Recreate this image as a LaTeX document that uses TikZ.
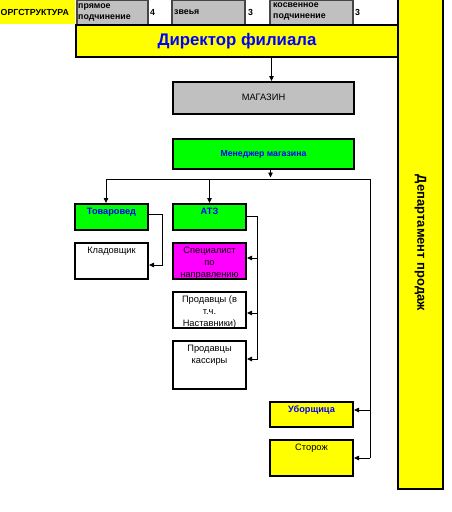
\documentclass[tikz,border=0pt]{standalone}
\usepackage{fontspec}
\setmainfont{Liberation Sans}
\usetikzlibrary{arrows.meta,calc}
\definecolor{cyellow}{RGB}{255,255,0}
\definecolor{cgreen}{RGB}{0,255,0}
\definecolor{cmag}{RGB}{255,0,255}
\definecolor{cgray}{RGB}{192,192,192}
\definecolor{hgray}{RGB}{70,70,70}
\definecolor{cblue}{RGB}{0,0,255}
\begin{document}
\begin{tikzpicture}[x=1pt,y=-1pt,
  box/.style={draw=black,line width=2pt,inner sep=0pt,anchor=north west,font=\fontsize{9.3}{12}\selectfont},
  txt/.style={font=\fontsize{9.3}{12}\selectfont,align=center,inner sep=0pt,anchor=north},
  btxt/.style={txt,font=\bfseries\fontsize{9.2}{12}\selectfont,text=cblue},
  hdr/.style={font=\bfseries\fontsize{8.8}{11}\selectfont,align=left,inner sep=0pt,anchor=west},
  hcell/.style={draw=hgray,line width=1.5pt,fill=cgray,inner sep=0pt,anchor=north west},
  conn/.style={line width=0.8pt},
  arr/.style={conn,-{Triangle[length=5pt,width=4.5pt]}}]
\useasboundingbox (0,0) rectangle (451,512);

% header row
\node[fill=cyellow,inner sep=0pt,minimum width=75pt,minimum height=24pt,anchor=north west] (orgcell) at (0,0) {};
\node[hdr] (orgt) at (0.5,12) {ОРГСТРУКТУРА};
\node[hcell,minimum width=71pt,minimum height=25pt] (c1) at (76,-1) {};
\node[hdr] (c1t) at (78,12) {прямое\\подчинение};
\node[hdr] (n1) at (150,12) {4};
\node[hcell,minimum width=73pt,minimum height=25pt] (c2) at (171,-1) {};
\node[hdr] (c2t) at (174,12) {звеья};
\node[hdr] (n2) at (248,12) {3};
\node[hcell,minimum width=83pt,minimum height=25pt] (c3) at (269,-1) {};
\node[hdr] (c3t) at (273,12) {косвенное\\подчинение};
\node[hdr] (n3) at (355,12) {3};

% department bar
\node[box,fill=cyellow,minimum width=45pt,minimum height=492pt] (dept) at (397,-4) {};
\node[font=\bfseries\fontsize{13}{15}\selectfont,rotate=-90,inner sep=0pt] (deptt) at (dept.center) {Департамент продаж};

% director
\node[box,fill=cyellow,minimum width=322pt,minimum height=32pt,font=\bfseries\fontsize{16.8}{19}\selectfont,text=cblue] (dir) at (75,24) {Директор филиала};

% store + manager
\node[box,fill=cgray,minimum width=181pt,minimum height=32pt] (mag) at (172,81) {\raisebox{1.5pt}{МАГАЗИН}};
\node[box,fill=cgreen,minimum width=181pt,minimum height=30pt,text=cblue,font=\bfseries\fontsize{8.7}{12}\selectfont] (mgr) at (172,138) {Менеджер магазина};

% left column
\node[box,fill=cgreen,minimum width=73pt,minimum height=26pt] (tov) at (74,203) {};
\node[btxt] (tovt) at ([yshift=-4.5pt]tov.north) {Товаровед};
\node[box,fill=white,minimum width=73pt,minimum height=36pt] (klad) at (74,242) {};
\node[txt] (kladt) at ([yshift=-4.5pt]klad.north) {Кладовщик};

% middle column
\node[box,fill=cgreen,minimum width=73pt,minimum height=26pt] (atz) at (172,203) {};
\node[btxt] (atzt) at ([yshift=-4.5pt]atz.north) {АТЗ};
\node[box,fill=cmag,minimum width=73pt,minimum height=36pt] (spec) at (172,242) {};
\node[txt] (spect) at ([yshift=-4.5pt]spec.north) {Специалист\\по\\направлению};
\node[box,fill=white,minimum width=73pt,minimum height=36pt] (prod1) at (172,291) {};
\node[txt] (prod1t) at ([yshift=-4.5pt]prod1.north) {Продавцы (в\\т.ч.\\Наставники)};
\node[box,fill=white,minimum width=73pt,minimum height=48pt] (prod2) at (172,340) {};
\node[txt] (prod2t) at ([yshift=-4.5pt]prod2.north) {Продавцы\\кассиры};

% right column
\node[box,fill=cyellow,minimum width=83pt,minimum height=25pt] (ubor) at (269,401) {};
\node[btxt] (ubort) at ([yshift=-4.5pt]ubor.north) {Уборщица};
\node[box,fill=cyellow,minimum width=83pt,minimum height=36pt] (stor) at (269,439) {};
\node[txt] (stort) at ([yshift=-4.5pt]stor.north) {Сторож};

% connectors
\draw[arr] ([xshift=8pt]mag.north |- dir.south) -- ([xshift=8pt]mag.north);
\coordinate (busM) at (270.5,179);
\coordinate (busL) at (106,179);
\coordinate (busR) at (370,179);
\draw[arr] (mgr.south -| busM) -- ([yshift=1.5pt]busM);
\draw[conn] (busL) -- (busR) -- (busR |- stor.east);
\draw[arr] (busL) -- (busL |- tov.north);
\draw[arr] (busL -| atz.north) -- (atz.north);
\draw[arr] ([yshift=4.5pt]ubor.east -| busR) -- ([yshift=4.5pt]ubor.east);
\draw[arr] (stor.east -| busR) -- (stor.east);

\draw[arr] ([yshift=3pt]tov.east) -- ++(13,0) |- ([yshift=-4pt]klad.east);

\coordinate (atzv) at ([xshift=10pt,yshift=1pt]atz.east);
\draw[arr] ([yshift=1pt]atz.east) -- (atzv) |- ([yshift=6pt]prod2.east);
\draw[arr] ([yshift=3pt]spec.east -| atzv) -- ([yshift=3pt]spec.east);
\draw[arr] ([yshift=-3pt]prod1.east -| atzv) -- ([yshift=-3pt]prod1.east);
\end{tikzpicture}
\end{document}
